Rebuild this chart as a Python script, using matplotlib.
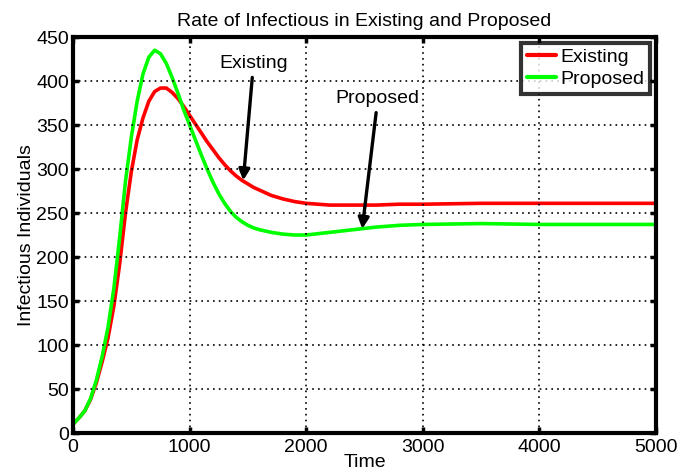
import matplotlib
matplotlib.use("Agg")
import matplotlib.pyplot as plt

plt.rcParams['font.family'] = ['Liberation Sans', 'DejaVu Sans']

time = [0, 50, 100, 150, 200, 250, 300, 350, 400, 450, 500, 550, 600, 650, 700,
        750, 800, 850, 900, 950, 1000, 1050, 1100, 1150, 1200, 1250, 1300, 1350,
        1400, 1450, 1500, 1550, 1600, 1700, 1800, 1900, 2000, 2200, 2400, 2600,
        2800, 3000, 3500, 4000, 4500, 5000]

existing = [10, 17, 25, 38, 57, 81, 108, 144, 192, 250, 297, 333, 358, 377, 388,
            392, 392, 387, 380, 371, 361, 351, 341, 331, 322, 313, 305, 298,
            292, 287, 283, 279, 276, 270, 266, 263, 261, 259, 259, 259,
            260, 260, 261, 261, 261, 261]

proposed = [10, 17, 25, 39, 60, 87, 120, 164, 222, 286, 336, 377, 408, 427, 435,
            431, 420, 404, 386, 367, 350, 333, 316, 300, 285, 272, 261, 252,
            245, 240, 236, 233, 231, 228, 226, 225, 225, 228, 231, 234,
            236, 237, 238, 237, 237, 237]

series_names = ["Existing", "Proposed"]
xticks = [0, 1000, 2000, 3000, 4000, 5000]
yticks = [0, 50, 100, 150, 200, 250, 300, 350, 400, 450]

fig = plt.figure(figsize=(6.78, 4.75), dpi=100)
ax = fig.add_axes([0.1077, 0.0884, 0.8599, 0.8337])

ax.plot(time, existing, color='#ff0000', lw=2.6, label=series_names[0],
        solid_joinstyle='round', solid_capstyle='round')
ax.plot(time, proposed, color='#00ff00', lw=2.6, label=series_names[1],
        solid_joinstyle='round', solid_capstyle='round')

ax.set_xlim(0, 5000)
ax.set_ylim(0, 450)
ax.set_xticks(xticks)
ax.set_yticks(yticks)
ax.tick_params(direction='in', length=4, width=2.5, top=True, right=True,
               labelsize=14, pad=3)
ax.tick_params(axis='x', pad=4)
for s in ax.spines.values():
    s.set_linewidth(3)
ax.grid(True, color='k', linestyle=(0, (1, 2.5)), linewidth=1.2)
ax.set_axisbelow(False)

ax.set_title("Rate of Infectious in Existing and Proposed", fontsize=14, pad=8)
ax.set_xlabel("Time", fontsize=14, labelpad=-1)
ax.set_ylabel("Infectious Individuals", fontsize=14, labelpad=1)

ap = dict(arrowstyle='-|>', lw=2.4, color='k', mutation_scale=16, shrinkA=2, shrinkB=0)
ax.annotate("Existing", xy=(1460, 287), xytext=(1548, 420), fontsize=14,
            ha='center', va='center', arrowprops=ap)
ax.annotate("Proposed", xy=(2480, 232), xytext=(2614, 380), fontsize=14,
            ha='center', va='center', arrowprops=ap)

leg = ax.legend(loc='upper right', fontsize=14, frameon=True, fancybox=False,
                borderpad=0.3, handlelength=1.45, handletextpad=0.25,
                labelspacing=0.2, borderaxespad=0.3)
leg.get_frame().set_edgecolor('k')
leg.get_frame().set_linewidth(3)
for l in leg.get_lines():
    l.set_linewidth(3)

fig.savefig("out.png", dpi=100)
